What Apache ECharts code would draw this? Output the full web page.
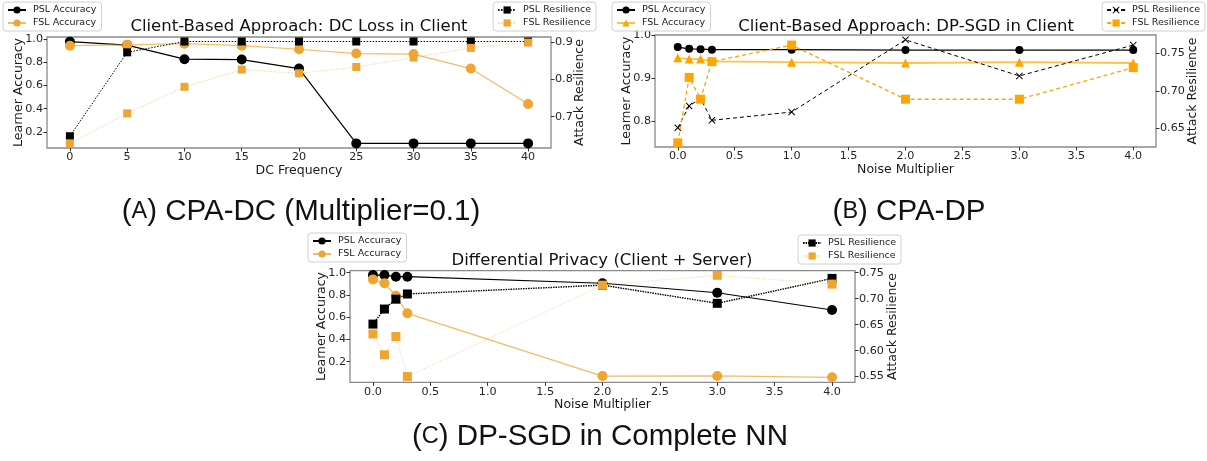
<!DOCTYPE html>
<html><head><meta charset="utf-8">
<script src="https://cdn.jsdelivr.net/npm/echarts@6/dist/echarts.min.js"></script>
<style>html,body{margin:0;padding:0;background:#fff;width:1207px;height:461px;overflow:hidden}
.p{position:absolute}</style></head>
<body>
<div id="a" class="p" style="left:0;top:0;width:600px;height:232px"></div>
<div id="b" class="p" style="left:600px;top:0;width:607px;height:232px"></div>
<div id="c" class="p" style="left:0;top:232px;width:1207px;height:229px"></div>
<script>
// ---------- Panel A: CPA-DC ----------
const xA = [0, 5, 10, 15, 20, 25, 30, 35, 40];
const pslAccA = [0.98, 0.95, 0.828, 0.825, 0.747, 0.10, 0.10, 0.10, 0.10];
const fslAccA = [0.945, 0.952, 0.962, 0.945, 0.914, 0.877, 0.872, 0.747, 0.44];
const pslResA = [0.648, 0.872, 0.901, 0.901, 0.901, 0.901, 0.901, 0.901, 0.901];
const fslResA = [0.629, 0.709, 0.78, 0.826, 0.816, 0.833, 0.858, 0.884, 0.898];
const xTicksA = [0, 5, 10, 15, 20, 25, 30, 35, 40];
const yLTicksA = [0.2, 0.4, 0.6, 0.8, 1.0];
const yRTicksA = [0.7, 0.8, 0.9];

// ---------- Panel B: CPA-DP ----------
const xB = [0, 0.1, 0.2, 0.3, 1, 2, 3, 4];
const pslAccB = [0.972, 0.968, 0.967, 0.966, 0.966, 0.965, 0.965, 0.965];
const fslAccB = [0.947, 0.944, 0.944, 0.939, 0.937, 0.935, 0.937, 0.935];
const pslResB = [0.651, 0.680, 0.690, 0.661, 0.672, 0.768, 0.720, 0.761];
const fslResB = [0.631, 0.718, 0.689, 0.739, 0.761, 0.689, 0.689, 0.731];
const xTicksB = [0, 0.5, 1, 1.5, 2, 2.5, 3, 3.5, 4];
const yLTicksB = [0.8, 0.9, 1.0];
const yRTicksB = [0.65, 0.70, 0.75];

// ---------- Panel C: DP-SGD in Complete NN ----------
const xC = [0, 0.1, 0.2, 0.3, 2, 3, 4];
const pslAccC = [0.979, 0.979, 0.964, 0.964, 0.905, 0.82, 0.665];
const fslAccC = [0.94, 0.905, 0.793, 0.635, 0.071, 0.072, 0.06];
const pslResC = [0.651, 0.680, 0.699, 0.709, 0.726, 0.691, 0.739];
const fslResC = [0.632, 0.592, 0.627, 0.550, 0.726, 0.745, 0.728];
const xTicksC = [0, 0.5, 1, 1.5, 2, 2.5, 3, 3.5, 4];
const yLTicksC = [0.2, 0.4, 0.6, 0.8, 1.0];
const yRTicksC = [0.55, 0.60, 0.65, 0.70, 0.75];

const FONT = 'DejaVu Sans';
const CAPFONT = '"Liberation Sans"';
const FRAME = '#8a8a8a';
const XSYM = 'path://M0,1L1,0L5,4L9,0L10,1L6,5L10,9L9,10L5,6L1,10L0,9L4,5Z';

function pairs(xs, ys) { return xs.map((x, i) => [x, ys[i]]); }

function axis(min, max, ticks, dec, extra) {
  return Object.assign({
    type: 'value', min: min, max: max,
    axisLine: { show: false, onZero: false },
    axisTick: { show: true, customValues: ticks, length: 3.5, lineStyle: { color: '#333', width: 1 } },
    axisLabel: { customValues: ticks, formatter: v => v.toFixed(dec), fontFamily: FONT, fontSize: 11.2, color: '#262626', margin: 4 },
    splitLine: { show: false },
    nameLocation: 'middle',
    nameTextStyle: { fontFamily: FONT, fontSize: 12.5, color: '#1a1a1a' }
  }, extra || {});
}

function legend(names, pos) {
  return Object.assign({
    data: names, orient: 'vertical', top: 2,
    itemWidth: 18, itemHeight: 9, itemGap: 3,
    padding: [3, 5, 3, 4],
    borderColor: '#d0d0d0', borderWidth: 1, borderRadius: 3,
    backgroundColor: 'rgba(255,255,255,0.85)',
    textStyle: { fontFamily: FONT, fontSize: 9.5, color: '#1a1a1a', padding: [0, 0, 0, 2] },
    selectedMode: false
  }, pos);
}

function line(name, data, yIdx, color, sym, size, ls, ms) {
  return {
    name: name, type: 'line', yAxisIndex: yIdx, data: data,
    symbol: sym, symbolSize: size, showSymbol: true,
    itemStyle: Object.assign({ color: color }, ms || {}),
    lineStyle: Object.assign({ color: color, width: 1.2 }, ls || {}),
    emphasis: { disabled: true }, animation: false
  };
}

function textG(x, y, text, size, family, rich) {
  const st = { x: x, y: y, text: text, fill: '#111', align: 'center', verticalAlign: 'middle',
    font: size + 'px ' + family };
  if (rich) st.rich = rich;
  return { type: 'text', style: st, silent: true };
}

function makePanel(id, cfg) {
  const ch = echarts.init(document.getElementById(id), null, { renderer: 'canvas' });
  const g = cfg.grid;
  ch.setOption({
    animation: false,
    grid: { left: g.left, top: g.top, width: g.width, height: g.height, show: true,
      borderColor: FRAME, borderWidth: 1.3, backgroundColor: 'transparent', containLabel: false },
    xAxis: axis(cfg.x[0], cfg.x[1], cfg.x[2], cfg.x[3], { name: cfg.xName, nameGap: cfg.xGap }),
    yAxis: [
      axis(cfg.yl[0], cfg.yl[1], cfg.yl[2], cfg.yl[3], { name: 'Learner Accuracy', nameGap: cfg.ylGap, nameMoveOverlap: false }),
      axis(cfg.yr[0], cfg.yr[1], cfg.yr[2], cfg.yr[3], { name: 'Attack Resilience', nameGap: cfg.yrGap, position: 'right', nameMoveOverlap: false })
    ],
    legend: cfg.legends,
    series: cfg.series,
    graphic: cfg.graphic
  });
}

const OR = '#F0A431';
const OB = '#FFA500';
const CAPSIZE = 29.5;
const SC = { sc: { fontSize: 23.5, fontFamily: 'Liberation Sans', fill: '#111' } };

makePanel('a', {
  grid: { left: 47, top: 37, width: 504, height: 111 },
  x: [-2, 42, xTicksA, 0], xName: 'DC Frequency', xGap: 13,
  yl: [0.06, 1.02, yLTicksA, 1], ylGap: 22,
  yr: [0.6165, 0.913, yRTicksA, 1], yrGap: 22,
  legends: [
    legend(['PSL Accuracy', 'FSL Accuracy'], { left: 3 }),
    legend(['PSL Resilience', 'FSL Resilience'], { right: 4 })
  ],
  series: [
    line('PSL Accuracy', pairs(xA, pslAccA), 0, '#000', 'circle', 10, { width: 1.2 }),
    line('FSL Accuracy', pairs(xA, fslAccA), 0, OR, 'circle', 10, { width: 1.2, opacity: 0.75 }),
    line('PSL Resilience', pairs(xA, pslResA), 1, '#000', 'rect', 8, { type: [1.5, 1.5], width: 1 }),
    line('FSL Resilience', pairs(xA, fslResA), 1, OR, 'rect', 8, { type: [1.5, 1.5], width: 1, opacity: 0.45 })
  ],
  graphic: [
    textG(299, 27, 'Client-Based Approach: DC Loss in Client', 16.5, '"DejaVu Sans"'),
    textG(301, 212, '({sc|A}) CPA-DC (Multiplier=0.1)', CAPSIZE, CAPFONT, SC)
  ]
});

makePanel('b', {
  grid: { left: 55, top: 35, width: 502, height: 112 },
  x: [-0.2, 4.2, xTicksB, 1], xName: 'Noise Multiplier', xGap: 13,
  yl: [0.74, 1.0, yLTicksB, 1], ylGap: 22,
  yr: [0.6255, 0.7744, yRTicksB, 2], yrGap: 30,
  legends: [
    legend(['PSL Accuracy', 'FSL Accuracy'], { left: 12 }),
    legend(['PSL Resilience', 'FSL Resilience'], { right: 2 })
  ],
  series: [
    line('PSL Accuracy', pairs(xB, pslAccB), 0, '#000', 'circle', 8, { width: 1.2 }),
    line('FSL Accuracy', pairs(xB, fslAccB), 0, OB, 'triangle', 9, { width: 1.8, opacity: 0.7 }),
    line('PSL Resilience', pairs(xB, pslResB), 1, '#000', XSYM, 7, { type: [4, 3], width: 1 }),
    line('FSL Resilience', pairs(xB, fslResB), 1, OB, 'rect', 9, { type: [4, 3], width: 1.3 })
  ],
  graphic: [
    textG(306, 26.5, 'Client-Based Approach: DP-SGD in Client', 16.5, '"DejaVu Sans"'),
    textG(309, 212, '({sc|B}) CPA-DP', CAPSIZE, CAPFONT, SC)
  ]
});

makePanel('c', {
  grid: { left: 350, top: 38.7, width: 505, height: 111.6 },
  x: [-0.2, 4.2, xTicksC, 1], xName: 'Noise Multiplier', xGap: 13,
  yl: [0.015, 1.018, yLTicksC, 1], ylGap: 22,
  yr: [0.539, 0.7538, yRTicksC, 2], yrGap: 31,
  legends: [
    legend(['PSL Accuracy', 'FSL Accuracy'], { left: 308, top: 1 }),
    legend(['PSL Resilience', 'FSL Resilience'], { right: 306, top: 3 })
  ],
  series: [
    line('PSL Accuracy', pairs(xC, pslAccC), 0, '#000', 'circle', 10, { width: 1.2 }),
    line('FSL Accuracy', pairs(xC, fslAccC), 0, OR, 'circle', 10, { width: 1.2, opacity: 0.75 }),
    line('PSL Resilience', pairs(xC, pslResC), 1, '#000', 'rect', 9, { type: [1.5, 1], width: 1.4 }),
    line('FSL Resilience', pairs(xC, fslResC), 1, OR, 'rect', 9, { type: [1.5, 1.5], width: 1, opacity: 0.4 })
  ],
  graphic: [
    textG(602, 29, 'Differential Privacy (Client + Server)', 16.5, '"DejaVu Sans"'),
    textG(600, 205, '({sc|C}) DP-SGD in Complete NN', CAPSIZE, CAPFONT, SC)
  ]
});
</script>
</body></html>
